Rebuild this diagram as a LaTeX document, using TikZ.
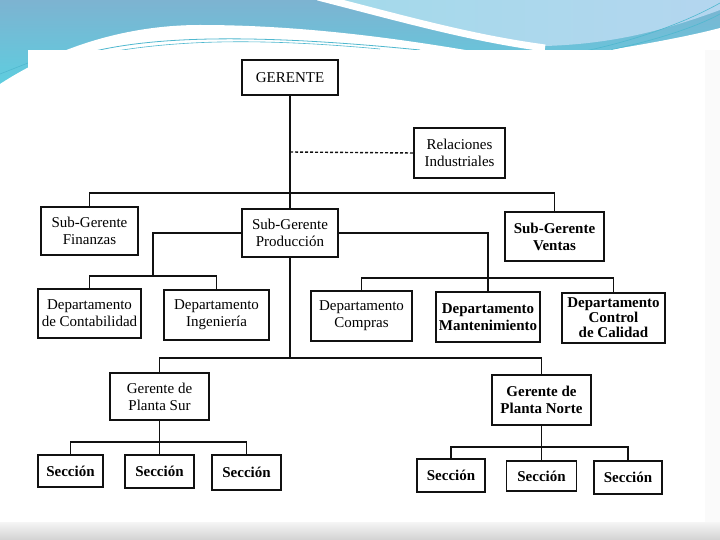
\documentclass[tikz,border=0pt]{standalone}
\usepackage{fontspec}
\setmainfont{Liberation Serif}
\usepackage{xcolor}
\definecolor{ink}{HTML}{111111}
\definecolor{tealA}{HTML}{5CCFE0}
\definecolor{tealB}{HTML}{7DB3D1}
\definecolor{skyA}{HTML}{A3DAEA}
\definecolor{skyB}{HTML}{B4D6EF}
\definecolor{lineT}{HTML}{4FB8CF}

\begin{document}
\begin{tikzpicture}[x=1pt, y=-1pt,
  every node/.style={font=\fontsize{15}{17}\selectfont, align=center},
  box/.style={draw=ink, line width=1.8pt, fill=white, inner sep=1pt},
  bbox/.style={box, font=\fontsize{15}{17}\selectfont\bfseries},
  link/.style={draw=ink, line width=1.4pt}]
\useasboundingbox (0,0) rectangle (720,540);

% slide background
\fill[white] (0,0) rectangle (720,540);
\shade[top color=tealB, bottom color=tealA] (0,0) rectangle (720,90);
\shade[left color=skyA, right color=skyB]
  (328,0) -- (720,0) -- (720,10) .. controls (660,32) and (610,44) .. (545,46)
  .. controls (460,36) and (400,15) .. (328,0) -- cycle;
\draw[white, line width=7pt] (318,-3) .. controls (400,18) and (470,38) .. (545,48);
\fill[white] (0,84) .. controls (60,45) and (130,25) .. (200,25)
  .. controls (300,25) and (400,38) .. (500,56) -- (500,95) -- (0,95) -- cycle;
\fill[white] (540,60) .. controls (630,48) and (690,36) .. (720,28) -- (720,95) -- cycle;
\draw[lineT, line width=0.8pt] (95,51) .. controls (160,36) and (260,34) .. (420,50);
\draw[lineT, line width=0.6pt] (110,52) .. controls (180,40) and (260,38) .. (380,49);
\draw[lineT, line width=0.6pt] (0,74) -- (28,63);
\draw[lineT, line width=0.6pt] (580,52) .. controls (640,40) and (690,20) .. (720,3);
\draw[lineT, line width=0.6pt] (600,52) .. controls (660,40) and (700,25) .. (720,14);
\fill[white] (28,50) rectangle (705,522);
\fill[gray!4] (705,50) rectangle (720,522);
\shade[top color=gray!8, bottom color=gray!35] (0,522) rectangle (720,540);

% boxes
\node[box, minimum width=96pt, minimum height=35pt] (ger) at (290,77.5) {GERENTE};
\node[box, minimum width=91pt, minimum height=50pt] (rel) at (459.5,153) {Relaciones\\Industriales};
\node[box, minimum width=97pt, minimum height=48pt] (fin) at (89.5,231) {Sub-Gerente\\Finanzas};
\node[box, minimum width=96pt, minimum height=48pt] (prod) at (290,233) {Sub-Gerente\\Producción};
\node[bbox, minimum width=99pt, minimum height=49pt] (ven) at (554.5,236.5) {Sub-Gerente\\Ventas};

\node[box, minimum width=103pt, minimum height=49pt] (cont) at (89.5,313.5) {Departamento\\de Contabilidad};
\node[box, minimum width=105pt, minimum height=50pt] (ing) at (216.5,315) {Departamento\\Ingeniería};
\node[box, minimum width=101pt, minimum height=50pt] (com) at (361.5,316) {Departamento\\Compras};
\node[bbox, minimum width=104pt, minimum height=50pt] (man) at (488,317) {Departamento\\Mantenimiento};
\node[bbox, minimum width=103pt, minimum height=50pt,
      font=\fontsize{15}{15}\selectfont\bfseries] (cal) at (613.5,318) {Departamento\\Control\\de Calidad};

\node[box, minimum width=99pt, minimum height=47pt] (sur) at (159.5,396.5) {Gerente de\\Planta Sur};
\node[bbox, minimum width=99pt, minimum height=50pt] (nor) at (541.5,400) {Gerente de\\Planta Norte};

\node[bbox, minimum width=65pt, minimum height=32pt] (s1) at (70.5,471) {Sección};
\node[bbox, minimum width=69pt, minimum height=33pt] (s2) at (159.5,471.5) {Sección};
\node[bbox, minimum width=69pt, minimum height=35pt] (s3) at (246.5,472.5) {Sección};
\node[bbox, minimum width=68pt, minimum height=33pt] (n1) at (451,475.5) {Sección};
\node[bbox, minimum width=70pt, minimum height=30pt] (n2) at (541.5,476) {Sección};
\node[bbox, minimum width=68pt, minimum height=33pt] (n3) at (628,477.5) {Sección};

\coordinate (dash) at (290,152);
\coordinate (busTop) at (290,193);
\coordinate (busL) at (153,276);
\coordinate (busR) at (488,278);
\coordinate (busP) at (290,358);
\coordinate (busS) at (159.5,442);
\coordinate (busN) at (541.5,447);

% connectors
\draw[link] (ger) -- (prod);
\draw[link, dash pattern=on 3pt off 2pt] (dash) -- (rel.west);
\draw[link] (fin.north) |- (busTop) -| (ven.north);
\draw[link] (prod.west) -| (busL);
\draw[link] (cont.north) |- (busL) -| (ing.north);
\draw[link] (prod.east) -| (man.north);
\draw[link] (com.north) |- (busR) -| (cal.north);
\draw[link] (prod.south) -- (busP);
\draw[link] (sur.north) |- (busP) -| (nor.north);
\draw[link] (sur) -- (s2);
\draw[link] (s1.north) |- (busS) -| (s3.north);
\draw[link] (nor) -- (n2);
\draw[link] (n1.north) |- (busN) -| (n3.north);
\end{tikzpicture}
\end{document}
